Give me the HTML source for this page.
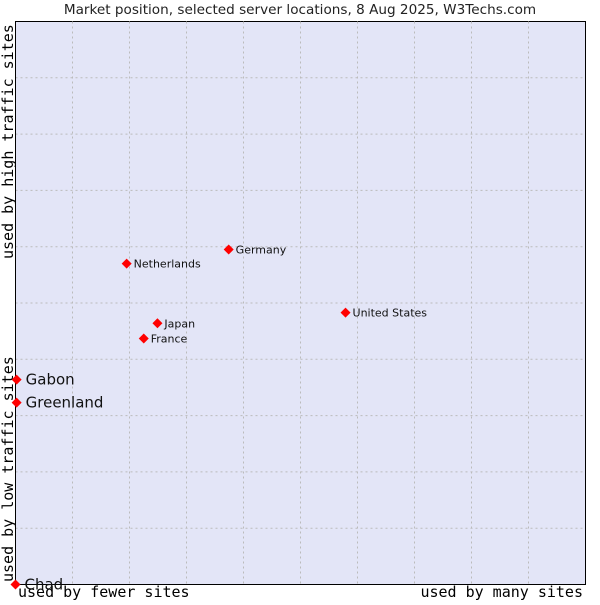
<!DOCTYPE html>
<html><head><meta charset="utf-8"><style>
body{margin:0;background:#fff;width:600px;height:600px;overflow:hidden}
svg text{font-family:"DejaVu Sans","Liberation Sans",sans-serif}
.mono{font-family:"DejaVu Sans Mono","Liberation Mono",monospace}
</style></head><body>
<svg id="chart" width="600" height="600">
<text x="300" y="14" text-anchor="middle" font-size="13.6" fill="#222">Market position, selected server locations, 8 Aug 2025, W3Techs.com</text>
<rect x="15.5" y="21.5" width="570" height="563" fill="#e3e5f7" stroke="#000"/>
<g id="grid"></g>
<line x1="15.5" y1="21" x2="15.5" y2="585" stroke="#000"/>
<line x1="15" y1="584.5" x2="586" y2="584.5" stroke="#000"/>
<text class="mono" x="18" y="597" font-size="15" fill="#000">used by fewer sites</text>
<text class="mono" x="583" y="597" text-anchor="end" font-size="15" fill="#000">used by many sites</text>
<text class="mono" transform="translate(13,582) rotate(-90)" font-size="15" fill="#000">used by low traffic sites</text>
<text class="mono" transform="translate(13,259) rotate(-90)" font-size="15" fill="#000">used by high traffic sites</text>
<g id="points"></g>
</svg>
<script>
const names=["Gabon","Greenland","Chad","Netherlands","Germany","Japan","France","United States"];
const xVals=[0.2,0.2,0,19.5,37.4,24.9,22.5,57.9];
const yVals=[36.4,32.3,0,57.0,59.5,46.4,43.7,48.3];
const bigLabel=[true,true,true,false,false,false,false,false];
const L=15.5,R=585.5,T=21.5,B=584.5;
const sx=v=>L+(R-L)*v/100, sy=v=>B-(B-T)*v/100;
const ns="http://www.w3.org/2000/svg";
const g=document.getElementById('grid');
for(let i=1;i<10;i++){
  const v=document.createElementNS(ns,'line');
  v.setAttribute('x1',sx(i*10));v.setAttribute('x2',sx(i*10));v.setAttribute('y1',T);v.setAttribute('y2',B);
  v.setAttribute('stroke','#bbb');v.setAttribute('stroke-dasharray','2,3');
  
  
  g.appendChild(v);
  const h=document.createElementNS(ns,'line');
  h.setAttribute('y1',sy(i*10));h.setAttribute('y2',sy(i*10));h.setAttribute('x1',L);h.setAttribute('x2',R);
  h.setAttribute('stroke','#bbb');h.setAttribute('stroke-dasharray','2,3');
  
  
  g.appendChild(h);
}
const p=document.getElementById('points');
names.forEach((n,i)=>{
  const x=sx(xVals[i]),y=sy(yVals[i]);
  const m=document.createElementNS(ns,'path');
  m.setAttribute('d',`M${x-5},${y} L${x},${y-5} L${x+5},${y} L${x},${y+5}Z`);
  m.setAttribute('fill','#f00');
  
  
  p.appendChild(m);
  const t=document.createElementNS(ns,'text');
  t.setAttribute('x',x+(bigLabel[i]?9:7));t.setAttribute('y',y+(bigLabel[i]?5:4));
  t.setAttribute('font-size',bigLabel[i]?15:11);t.setAttribute('fill','#111');
  t.textContent=n;
  
  
  p.appendChild(t);
});
</script>
</body></html>
